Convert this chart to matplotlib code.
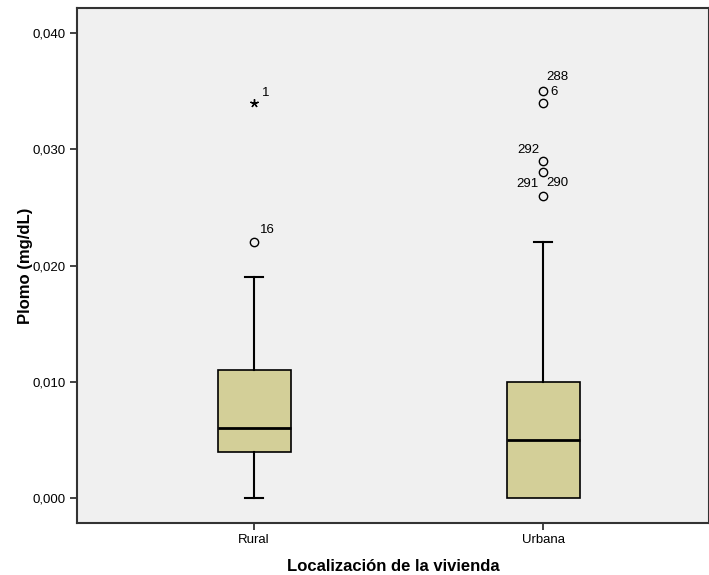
import numpy as np
import matplotlib.pyplot as plt

plt.rcParams['font.family'] = ['Liberation Sans', 'DejaVu Sans']

# Data (mg/dL)
categories = ['Rural', 'Urbana']
whislo = [0.000, 0.000]
q1 = [0.004, 0.000]
med = [0.006, 0.005]
q3 = [0.011, 0.010]
whishi = [0.019, 0.022]

# outliers (circles) and extremes (stars) with their case numbers
rural_out = [0.022]
rural_out_ids = ['16']
rural_extreme = [0.034]
rural_extreme_ids = ['1']
urban_out = [0.035, 0.034, 0.029, 0.028, 0.026]
urban_out_ids = ['288', '6', '292', '291', '290']

boxColor = '#d3cf98'
bgColor = '#f0f0f0'

fig = plt.figure(figsize=(7.09, 5.75), dpi=100)
ax = fig.add_axes([0.1086, 0.0904, 0.8914, 0.8957])
ax.set_facecolor(bgColor)

stats = []
for i in range(len(categories)):
    stats.append({'whislo': whislo[i], 'q1': q1[i], 'med': med[i],
                  'q3': q3[i], 'whishi': whishi[i], 'fliers': []})

parts = ax.bxp(stats, positions=[1, 2], widths=0.2526, patch_artist=True,
               showfliers=False, capwidths=0.062,
               boxprops=dict(facecolor=boxColor, edgecolor='black', linewidth=1.2),
               medianprops=dict(color='black', linewidth=2),
               whiskerprops=dict(color='black', linewidth=1.5),
               capprops=dict(color='black', linewidth=1.5))

# no lower cap where the whisker has zero length (Urbana)
for i in range(len(categories)):
    if whislo[i] == q1[i]:
        parts['caps'][2 * i].set_visible(False)

ax.plot([1] * len(rural_out), rural_out, 'o', mfc='none', mec='black',
        ms=6, mew=1)
ax.plot([1] * len(rural_extreme), rural_extreme, marker=(5, 2, 0),
        ls='none', color='black', ms=6, mew=1)
ax.plot([2] * len(urban_out), urban_out, 'o', mfc='none', mec='black',
        ms=6, mew=1)

px = 0.72  # one pixel in points

def label(x, y, text, dx, dy, ha='left'):
    ax.annotate(text, (x, y), xytext=(dx * px, dy * px),
                textcoords='offset points', ha=ha, va='center', fontsize=9.5)

label(1, rural_extreme[0], rural_extreme_ids[0], 8, 10)
label(1, rural_out[0], rural_out_ids[0], 6, 12)
label(2, urban_out[0], urban_out_ids[0], 3, 14)
label(2, urban_out[0], urban_out_ids[1], 7, -1)
label(2, urban_out[2], urban_out_ids[2], -4, 11, ha='right')
label(2, urban_out[4], urban_out_ids[3], -5, 12, ha='right')
label(2, urban_out[4], urban_out_ids[4], 3, 13)

ax.set_xlim(0.3875, 2.574)
ax.set_ylim(-0.00215, 0.04215)
ax.set_xticks([1, 2])
ax.set_xticklabels(categories)
ax.set_yticks([0, 0.01, 0.02, 0.03, 0.04])
ax.set_yticklabels(['0,000', '0,010', '0,020', '0,030', '0,040'])
ax.tick_params(labelsize=9.5, length=5, width=1.2, color='#222222', pad=3)

for side in ['left', 'right', 'top', 'bottom']:
    ax.spines[side].set_color('#333333')
    ax.spines[side].set_linewidth(1.5)

ax.set_ylabel('Plomo (mg/dL)', fontsize=12, fontweight='bold', labelpad=0)
ax.set_xlabel('Localización de la vivienda', fontsize=12, fontweight='bold',
              labelpad=9)

plt.savefig('out.png', dpi=100)
